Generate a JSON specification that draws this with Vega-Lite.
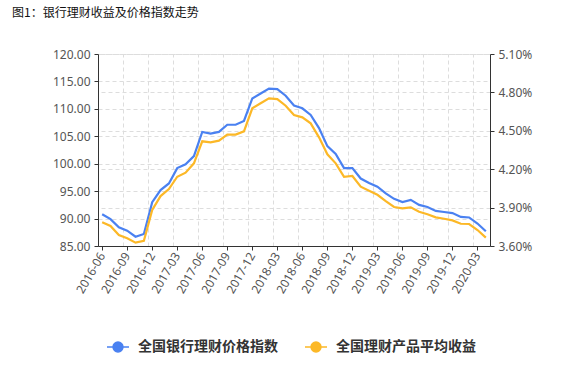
{
  "$schema": "https://vega.github.io/schema/vega-lite/v6.json",
  "width": 392,
  "height": 192,
  "autosize": "none",
  "padding": {"left": 98, "top": 54, "right": 98, "bottom": 131},
  "background": "white",
  "config": {"view": {"stroke": null}},
  "title": {"text": "图1：银行理财收益及价格指数走势", "anchor": "start", "frame": "group", "dx": -86, "offset": 19, "baseline": "alphabetic", "fontSize": 12, "fontWeight": "normal", "font": "Noto Sans CJK SC", "color": "#111"},
  "data": {"values": [
    {"month": "2016-06", "index": 90.8, "yield": 0.03785},
    {"month": "2016-07", "index": 89.9, "yield": 0.03756},
    {"month": "2016-08", "index": 88.4, "yield": 0.03686},
    {"month": "2016-09", "index": 87.8, "yield": 0.0366},
    {"month": "2016-10", "index": 86.7, "yield": 0.03626},
    {"month": "2016-11", "index": 87.2, "yield": 0.03641},
    {"month": "2016-12", "index": 93.0, "yield": 0.03881},
    {"month": "2017-01", "index": 95.2, "yield": 0.0399},
    {"month": "2017-02", "index": 96.4, "yield": 0.04045},
    {"month": "2017-03", "index": 99.2, "yield": 0.04141},
    {"month": "2017-04", "index": 99.9, "yield": 0.04173},
    {"month": "2017-05", "index": 101.4, "yield": 0.04246},
    {"month": "2017-06", "index": 105.8, "yield": 0.04418},
    {"month": "2017-07", "index": 105.5, "yield": 0.0441},
    {"month": "2017-08", "index": 105.8, "yield": 0.04423},
    {"month": "2017-09", "index": 107.1, "yield": 0.0447},
    {"month": "2017-10", "index": 107.1, "yield": 0.0447},
    {"month": "2017-11", "index": 107.8, "yield": 0.04496},
    {"month": "2017-12", "index": 111.9, "yield": 0.04676},
    {"month": "2018-01", "index": 112.8, "yield": 0.04715},
    {"month": "2018-02", "index": 113.7, "yield": 0.04754},
    {"month": "2018-03", "index": 113.6, "yield": 0.04748},
    {"month": "2018-04", "index": 112.4, "yield": 0.04696},
    {"month": "2018-05", "index": 110.6, "yield": 0.04623},
    {"month": "2018-06", "index": 110.1, "yield": 0.04605},
    {"month": "2018-07", "index": 108.9, "yield": 0.04558},
    {"month": "2018-08", "index": 106.5, "yield": 0.04449},
    {"month": "2018-09", "index": 103.2, "yield": 0.04316},
    {"month": "2018-10", "index": 101.8, "yield": 0.04246},
    {"month": "2018-11", "index": 99.2, "yield": 0.04141},
    {"month": "2018-12", "index": 99.2, "yield": 0.04147},
    {"month": "2019-01", "index": 97.3, "yield": 0.04063},
    {"month": "2019-02", "index": 96.5, "yield": 0.04032},
    {"month": "2019-03", "index": 95.8, "yield": 0.0400},
    {"month": "2019-04", "index": 94.6, "yield": 0.0395},
    {"month": "2019-05", "index": 93.6, "yield": 0.03905},
    {"month": "2019-06", "index": 93.0, "yield": 0.03894},
    {"month": "2019-07", "index": 93.4, "yield": 0.03902},
    {"month": "2019-08", "index": 92.5, "yield": 0.03868},
    {"month": "2019-09", "index": 92.1, "yield": 0.03848},
    {"month": "2019-10", "index": 91.4, "yield": 0.03824},
    {"month": "2019-11", "index": 91.2, "yield": 0.03813},
    {"month": "2019-12", "index": 91.0, "yield": 0.038},
    {"month": "2020-01", "index": 90.3, "yield": 0.03774},
    {"month": "2020-02", "index": 90.2, "yield": 0.03772},
    {"month": "2020-03", "index": 89.1, "yield": 0.03725},
    {"month": "2020-04", "index": 87.7, "yield": 0.03665}
  ]},
  "layer": [
    {
      "mark": {"type": "line", "strokeWidth": 2.2},
      "encoding": {
        "x": {"field": "month", "type": "ordinal", "sort": null, "bandPosition": 0.5,
          "scale": {"type": "band", "paddingInner": 0, "paddingOuter": 0},
          "axis": {"title": null, "values": ["2016-06","2016-09","2016-12","2017-03","2017-06","2017-09","2017-12","2018-03","2018-06","2018-09","2018-12","2019-03","2019-06","2019-09","2019-12","2020-03"],
            "labelAngle": -60, "grid": false, "bandPosition": 0.5, "domainColor": "#333", "tickColor": "#333", "tickSize": 4,
            "labelColor": "#555", "labelFontSize": 12, "labelFont": "Noto Sans", "labelPadding": 3}},
        "y": {"field": "index", "type": "quantitative",
          "scale": {"domain": [85, 120], "zero": false, "nice": false},
          "axis": {"title": null, "values": [85, 90, 95, 100, 105, 110, 115, 120], "format": ".2f", "grid": true, "gridDash": [4, 3], "gridColor": "#dddddd",
            "domainColor": "#333", "tickColor": "#333", "tickSize": 4, "labelColor": "#555", "labelFontSize": 12, "labelFont": "Noto Sans", "labelPadding": 4}},
        "color": {"datum": "全国银行理财价格指数", "type": "nominal",
          "scale": {"domain": ["全国银行理财价格指数", "全国理财产品平均收益"], "range": ["#4a81f1", "#fcb827"]},
          "legend": {"orient": "none", "legendX": 8, "legendY": 281, "direction": "horizontal", "title": null,
            "symbolType": "M-1,0L1,0M-0.45,0A0.45,0.45,0,1,0,0.45,0A0.45,0.45,0,1,0,-0.45,0Z",
            "symbolSize": 484, "symbolStrokeWidth": 1.5, "labelOffset": 8, "columnPadding": 24,
            "labelFont": "Noto Sans CJK SC", "labelFontSize": 14, "labelFontWeight": "bold", "labelColor": "#333",
            "encode": {"symbols": {"update": {"fill": {"scale": "color", "field": "value"}, "fillOpacity": {"value": 1}}}}}}
      }
    },
    {
      "mark": {"type": "line", "strokeWidth": 2.2},
      "encoding": {
        "x": {"field": "month", "type": "ordinal", "sort": null, "bandPosition": 0.5,
          "axis": {"orient": "top", "title": null, "values": ["2016-06","2016-09","2016-12","2017-03","2017-06","2017-09","2017-12","2018-03","2018-06","2018-09","2018-12","2019-03","2019-06","2019-09","2019-12","2020-03"],
            "bandPosition": 0, "grid": true, "gridDash": [4, 3], "gridColor": "#dddddd", "labels": false, "ticks": false, "domain": false}},
        "y": {"field": "yield", "type": "quantitative",
          "scale": {"domain": [0.036, 0.051], "zero": false, "nice": false},
          "axis": {"orient": "right", "title": null, "values": [0.036, 0.039, 0.042, 0.045, 0.048, 0.051], "format": ".2%", "grid": true, "gridDash": [4, 3], "gridColor": "#dddddd",
            "domainColor": "#333", "tickColor": "#333", "tickSize": 4, "labelColor": "#555", "labelFontSize": 12, "labelFont": "Noto Sans", "labelPadding": 4}},
        "color": {"datum": "全国理财产品平均收益", "type": "nominal"}
      }
    }
  ],
  "resolve": {"scale": {"y": "independent"}, "axis": {"x": "independent"}}
}
